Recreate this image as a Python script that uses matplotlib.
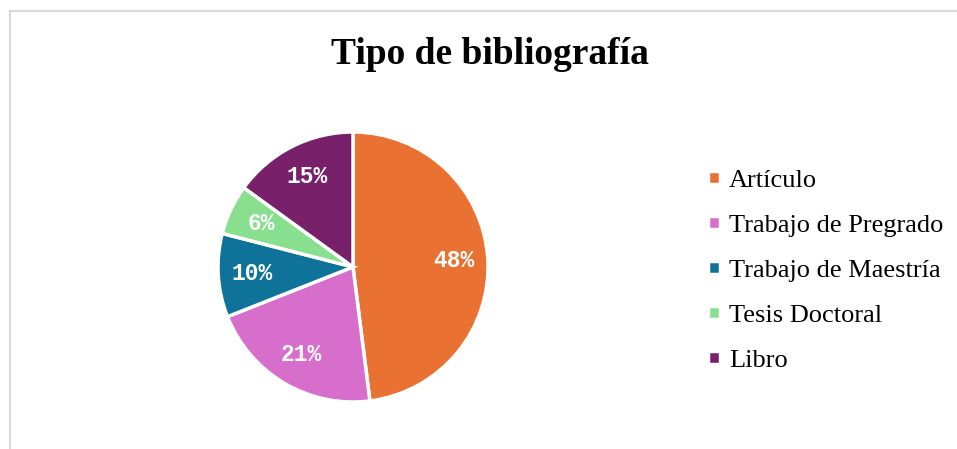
import matplotlib.pyplot as plt
from matplotlib.lines import Line2D

# datos
categorias = ["Artículo", "Trabajo de Pregrado", "Trabajo de Maestría", "Tesis Doctoral", "Libro"]
valores = [48, 21, 10, 6, 15]
colores = ["#E97132", "#D86ECC", "#0F7399", "#88E08F", "#782069"]
titulo = "Tipo de bibliografía"

W, H = 957, 449
fig = plt.figure(figsize=(W / 100, H / 100), dpi=100)

# marco gris (solo se ven arriba e izquierda)
fig.add_artist(Line2D([10 / W, 10 / W], [0, 1 - 11 / H], color="#D9D9D9", lw=1.5))
fig.add_artist(Line2D([10 / W, 1], [1 - 11 / H, 1 - 11 / H], color="#D9D9D9", lw=1.5))

cx, cy, r = 353, 267, 135
ax = fig.add_axes([(cx - r) / W, (H - cy - r) / H, 2 * r / W, 2 * r / H])
wedges, textos, autotextos = ax.pie(
    valores, colors=colores, startangle=90, counterclock=False,
    autopct="%1.0f%%", pctdistance=0.75,
    wedgeprops=dict(edgecolor="white", linewidth=2.5),
    textprops=dict(color="white", fontsize=16.5, fontweight="bold",
                   family="Liberation Mono"))
ax.set_xlim(-1, 1)
ax.set_ylim(-1, 1)
ax.set_aspect("auto")
ax.axis("off")

fig.text(490 / W, 1 - 55 / H, titulo, ha="center", va="center",
         fontsize=27, fontweight="bold", family="Liberation Serif")

fig.legend(wedges, categorias, loc="center left",
           bbox_to_anchor=(708 / W, 1 - 271 / H), frameon=False,
           prop=dict(family="Liberation Serif", size=19),
           handlelength=0.45, handleheight=0.35, handletextpad=0.35,
           labelspacing=0.87, borderpad=0, borderaxespad=0)

fig.savefig("out.png", dpi=100)
